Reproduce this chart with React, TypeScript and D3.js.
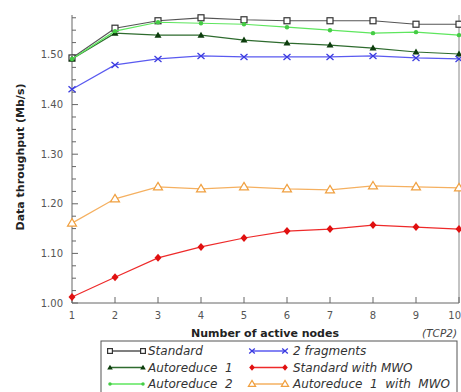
import { useEffect, useRef } from "react";
import * as d3 from "d3";

const nodes = [1, 2, 3, 4, 5, 6, 7, 8, 9, 10];
const standard = [1.494, 1.554, 1.569, 1.575, 1.571, 1.569, 1.569, 1.569, 1.562, 1.562];
const autoreduce1 = [1.492, 1.544, 1.54, 1.54, 1.53, 1.524, 1.52, 1.514, 1.506, 1.502];
const autoreduce2 = [1.492, 1.548, 1.566, 1.564, 1.562, 1.556, 1.55, 1.544, 1.546, 1.54];
const fragments2 = [1.431, 1.48, 1.492, 1.498, 1.496, 1.496, 1.496, 1.498, 1.494, 1.492];
const standardMwo = [1.012, 1.052, 1.091, 1.113, 1.131, 1.145, 1.149, 1.157, 1.153, 1.149];
const autoreduce1Mwo = [1.161, 1.21, 1.234, 1.23, 1.234, 1.23, 1.228, 1.236, 1.234, 1.232];
const yTicks = [1.0, 1.1, 1.2, 1.3, 1.4, 1.5];

type Marker = "square" | "triangle" | "dot" | "cross" | "diamond" | "otriangle";

interface Series {
  name: string;
  values: number[];
  color: string;
  markColor: string;
  marker: Marker;
}

const series: Series[] = [
  { name: "Standard", values: standard, color: "#555", markColor: "#333", marker: "square" },
  { name: "Autoreduce  1", values: autoreduce1, color: "#2e6b2e", markColor: "#0d3d0d", marker: "triangle" },
  { name: "Autoreduce  2", values: autoreduce2, color: "#5ee65e", markColor: "#44cc44", marker: "dot" },
  { name: "2 fragments", values: fragments2, color: "#5a5af0", markColor: "#3b3be0", marker: "cross" },
  { name: "Standard with MWO", values: standardMwo, color: "#ee2a2a", markColor: "#e01010", marker: "diamond" },
  { name: "Autoreduce  1  with  MWO", values: autoreduce1Mwo, color: "#f5b060", markColor: "#f0a040", marker: "otriangle" },
];

function drawMarker(g: d3.Selection<SVGGElement, unknown, null, undefined>, m: Marker, x: number, y: number, c: string, k = 1) {
  if (m === "square") {
    g.append("rect").attr("x", x - 3 * k).attr("y", y - 3 * k).attr("width", 6 * k).attr("height", 6 * k)
      .attr("fill", "#fff").attr("stroke", c).attr("stroke-width", 1.2);
  } else if (m === "triangle") {
    g.append("path").attr("d", `M${x},${y - 3.5 * k}L${x + 3.5 * k},${y + 2.5 * k}L${x - 3.5 * k},${y + 2.5 * k}Z`).attr("fill", c);
  } else if (m === "dot") {
    g.append("circle").attr("cx", x).attr("cy", y).attr("r", 2.2 * k).attr("fill", c);
  } else if (m === "cross") {
    g.append("path").attr("d", `M${x - 3.5 * k},${y - 3 * k}L${x + 3.5 * k},${y + 3 * k}M${x - 3.5 * k},${y + 3 * k}L${x + 3.5 * k},${y - 3 * k}`)
      .attr("stroke", c).attr("stroke-width", 1.3);
  } else if (m === "diamond") {
    g.append("path").attr("d", `M${x},${y - 4 * k}L${x + 3.5 * k},${y}L${x},${y + 4 * k}L${x - 3.5 * k},${y}Z`).attr("fill", c);
  } else {
    g.append("path").attr("d", `M${x},${y - 4.5 * k}L${x + 4.5 * k},${y + 3 * k}L${x - 4.5 * k},${y + 3 * k}Z`)
      .attr("fill", "#fff").attr("stroke", c).attr("stroke-width", 1.2);
  }
}

export default function App() {
  const svgRef = useRef<SVGSVGElement>(null);

  useEffect(() => {
    const svg = d3.select(svgRef.current);
    svg.selectAll("*").remove();

    const x = d3.scaleLinear().domain([1, 10]).range([72, 459]);
    const y = d3.scaleLinear().domain([1, 1.58]).range([303, 15.3]);
    const g = svg.append("g");

    // axes frame: left, bottom, right
    g.append("line").attr("x1", 72).attr("x2", 72).attr("y1", 15).attr("y2", 303).attr("stroke", "#666");
    g.append("line").attr("x1", 72).attr("x2", 459).attr("y1", 303).attr("y2", 303).attr("stroke", "#666");
    g.append("line").attr("x1", 459).attr("x2", 459).attr("y1", 15).attr("y2", 303).attr("stroke", "#888");

    // y ticks (minor every 0.025)
    const minor = d3.range(0, 24).map((i) => 1 + i * 0.025);
    minor.forEach((v, i) => {
      const major = i % 4 === 0;
      g.append("line").attr("x1", 72).attr("x2", major ? 78 : 76)
        .attr("y1", y(v)).attr("y2", y(v)).attr("stroke", "#666");
    });
    yTicks.forEach((v) => {
      g.append("text").attr("x", 63).attr("y", y(v)).attr("dy", "0.35em").attr("text-anchor", "end")
        .style("font-family", "DejaVu Sans").style("font-size", "10px").style("fill", "#555")
        .text(v.toFixed(2));
    });

    // x ticks
    nodes.forEach((n) => {
      g.append("line").attr("x1", x(n)).attr("x2", x(n)).attr("y1", 303).attr("y2", 297).attr("stroke", "#666");
      const last = n === nodes[nodes.length - 1];
      g.append("text").attr("x", last ? 461 : x(n)).attr("y", 319).attr("text-anchor", last ? "end" : "middle")
        .style("font-family", "DejaVu Sans").style("font-size", "10px").style("fill", "#555")
        .text(String(n));
    });

    // series
    const line = d3.line<number>().x((_, i) => x(nodes[i])).y((d) => y(d));
    series.forEach((s) => {
      g.append("path").attr("d", line(s.values)!).attr("fill", "none")
        .attr("stroke", s.color).attr("stroke-width", 1.2);
      s.values.forEach((v, i) => drawMarker(g, s.marker, x(nodes[i]), y(v), s.markColor));
    });

    // labels
    g.append("text").attr("transform", "translate(24,157) rotate(-90)").attr("text-anchor", "middle")
      .style("font-family", "DejaVu Sans").style("font-weight", "bold").style("font-size", "11px").style("fill", "#222")
      .text("Data throughput (Mb/s)");
    g.append("text").attr("x", 265).attr("y", 337).attr("text-anchor", "middle")
      .style("font-family", "DejaVu Sans").style("font-weight", "bold").style("font-size", "11px").style("fill", "#222")
      .text("Number of active nodes");
    g.append("text").attr("x", 457).attr("y", 337).attr("text-anchor", "end")
      .style("font-family", "DejaVu Sans").style("font-style", "italic").style("font-size", "10.5px").style("fill", "#444")
      .text("(TCP2)");

    // legend
    g.append("rect").attr("x", 101).attr("y", 341).attr("width", 356).attr("height", 60)
      .attr("fill", "#fff").attr("stroke", "#555");
    series.forEach((s, i) => {
      const col = i < 3 ? 0 : 1;
      const row = i % 3;
      const lx = col === 0 ? 110 : 252;
      const ly = 351 + row * 16.5;
      const lg = g.append("g");
      lg.append("line").attr("x1", lx).attr("x2", lx + 33).attr("y1", ly).attr("y2", ly)
        .attr("stroke", s.color).attr("stroke-width", 1.4);
      drawMarker(lg, s.marker, lx, ly, s.markColor, 0.8);
      drawMarker(lg, s.marker, lx + 33, ly, s.markColor, 0.8);
      lg.append("text").attr("x", col === 0 ? 148 : 293).attr("y", ly).attr("dy", "0.36em")
        .style("font-family", "DejaVu Sans").style("font-style", "italic").style("font-size", "12px").style("fill", "#333")
        .style("white-space", "pre")
        .text(s.name);
    });
  }, []);

  return (
    <div style={{ position: "absolute", left: 0, top: 0 }}>
      <svg ref={svgRef} width={461} height={392} style={{ display: "block", background: "#fff" }} />
    </div>
  );
}
